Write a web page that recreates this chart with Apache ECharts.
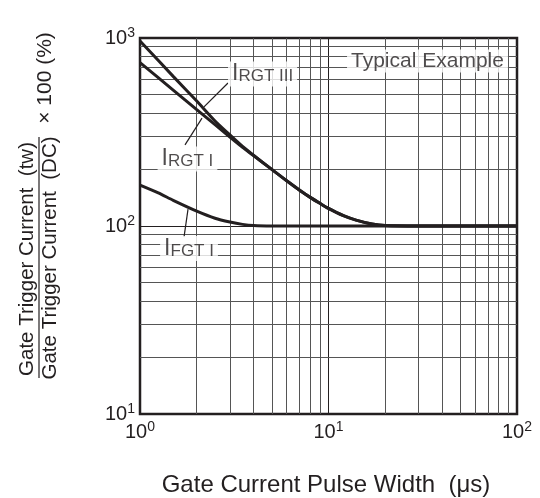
<!DOCTYPE html>
<html>
<head>
<meta charset="utf-8">
<script src="https://cdn.jsdelivr.net/npm/echarts@6/dist/echarts.min.js"></script>
<style>
  html, body { margin: 0; padding: 0; background: #fff; }
  #chart { width: 540px; height: 498px; }
</style>
</head>
<body>
<div id="chart"></div>
<script>
// pulse width (us) and gate trigger current ratio (%)
const pulseWidth = [1, 1.5, 2, 2.5, 3, 3.5, 4, 5, 6, 7, 8, 9, 10, 12, 14, 17, 20, 30, 50, 100];
const irgt3 = [965, 625, 462, 362, 305, 265, 238, 200, 174, 155.5, 142, 132, 124, 113.5, 107.5, 102.5, 100.5, 100, 100, 100];
const irgt1 = [740, 528, 416, 346, 297, 262, 237, 200, 174, 155.5, 142, 132, 124, 113.5, 107.5, 102.5, 100.5, 100, 100, 100];
const fgtWidth = [1, 1.25, 1.5, 2, 2.5, 3, 3.5, 4, 5, 10, 100];
const ifgt1 = [165, 150, 137, 120, 110, 105, 102, 100.5, 100, 100, 100];

// minor grid lines of the log paper
const gridX = [2, 3, 4, 5, 6, 7, 8, 9, 20, 30, 40, 50, 60, 70, 80, 90];
const gridY = [20, 30, 40, 50, 60, 70, 80, 90, 200, 300, 400, 500, 600, 700, 800, 900];

// curve names and where they sit (data coords), with leader lines
const notes = [
  { text: '{m|I}{s|RGT III}', at: [4.47, 644], from: [2.93, 576], to: [2.186, 430] },
  { text: '{m|I}{s|RGT I}', at: [1.786, 227], from: [1.733, 270], to: [2.133, 375] },
  { text: '{m|I}{s|FGT I}', at: [1.82, 75.9], from: [1.712, 87.3], to: [1.798, 123] },
  { text: '{t|Typical Example}', at: [33.5, 755] }
];

const font = '"Liberation Sans", Arial, Helvetica, sans-serif';
const ink = '#231f20';

const chart = echarts.init(document.getElementById('chart'));

const powLabel = v => {
  const e = Math.round(Math.log10(v));
  return '{b|10}{s|' + e + '}';
};
const tickRich = {
  b: { fontSize: 20, color: ink, fontFamily: font },
  s: { fontSize: 14, color: ink, fontFamily: font, padding: [0, 0, 10, 0] }
};

const curve = (xs, ys, name) => ({
  name: name,
  type: 'line',
  data: xs.map((x, i) => [x, ys[i]]),
  showSymbol: false,
  smooth: 0.25,
  lineStyle: { color: ink, width: 3 },
  z: 5,
  silent: true
});

const option = {
  animation: false,
  grid: {
    left: 140, right: 23, top: 38, bottom: 84,
    show: true, borderColor: ink, borderWidth: 2.5
  },
  xAxis: {
    type: 'log', logBase: 10, min: 1, max: 100,
    axisLine: { show: false },
    axisTick: { show: false },
    splitLine: { show: true, lineStyle: { color: ink, width: 1 } },
    axisLabel: { margin: 6, formatter: powLabel, rich: tickRich }
  },
  yAxis: {
    type: 'log', logBase: 10, min: 10, max: 1000,
    axisLine: { show: false },
    axisTick: { show: false },
    splitLine: { show: true, lineStyle: { color: ink, width: 1 } },
    axisLabel: { margin: 5, formatter: powLabel, rich: tickRich }
  },
  series: [
    {
      name: 'grid',
      type: 'line',
      data: [],
      z: 1,
      silent: true,
      markLine: {
        silent: true,
        symbol: ['none', 'none'],
        label: { show: false },
        lineStyle: { type: 'solid', color: '#555', width: 1 },
        data: gridX.map(v => ({ xAxis: v })).concat(gridY.map(v => ({ yAxis: v })))
      }
    },
    curve(pulseWidth, irgt3, 'IRGT III'),
    curve(pulseWidth, irgt1, 'IRGT I'),
    curve(fgtWidth, ifgt1, 'IFGT I'),
    {
      name: 'notes',
      type: 'scatter',
      symbolSize: 0,
      z: 10,
      silent: true,
      data: notes.map(n => ({ value: n.at, label: { formatter: n.text } })),
      label: {
        show: true,
        position: 'inside',
        backgroundColor: '#fff',
        padding: [1, 4],
        rich: {
          m: { fontSize: 23, color: ink, fontFamily: font },
          s: { fontSize: 17, color: ink, fontFamily: font, padding: [5, 0, 0, 0] },
          t: { fontSize: 21, color: ink, fontFamily: font }
        }
      },
      markLine: {
        silent: true,
        symbol: ['none', 'none'],
        label: { show: false },
        lineStyle: { type: 'solid', color: ink, width: 1.2 },
        data: notes.filter(n => n.from).map(n => [{ coord: n.from }, { coord: n.to }])
      }
    }
  ],
  graphic: [
    {
      type: 'text', x: 326, y: 485,
      style: { text: 'Gate Current Pulse Width  (\u03bcs)', font: '24px ' + font, fill: ink, textAlign: 'center', textVerticalAlign: 'middle' }
    },
    {
      type: 'text', x: 27, y: 259, rotation: Math.PI / 2,
      style: { text: 'Gate Trigger Current  (tw)', font: '20.5px ' + font, fill: ink, textAlign: 'center', textVerticalAlign: 'middle' }
    },
    {
      type: 'text', x: 50, y: 258, rotation: Math.PI / 2,
      style: { text: 'Gate Trigger Current  (DC)', font: '20.5px ' + font, fill: ink, textAlign: 'center', textVerticalAlign: 'middle' }
    },
    {
      type: 'line',
      shape: { x1: 39, y1: 137, x2: 39, y2: 378 },
      style: { stroke: ink, lineWidth: 1.2 }
    },
    {
      type: 'text', x: 45, y: 78, rotation: Math.PI / 2,
      style: { text: '\u00d7 100 (%)', font: '21px ' + font, fill: ink, textAlign: 'center', textVerticalAlign: 'middle' }
    }
  ]
};

chart.setOption(option);
</script>
</body>
</html>
